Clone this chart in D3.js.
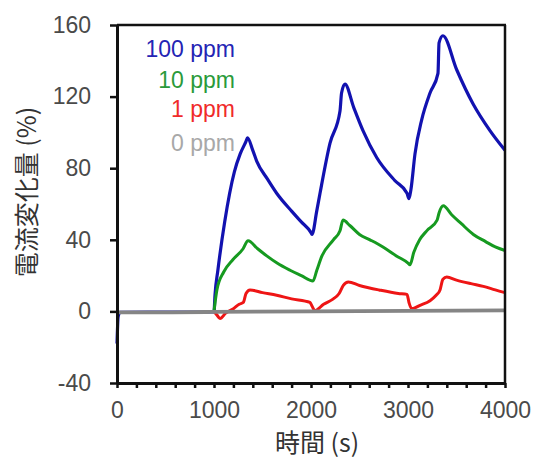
<!DOCTYPE html>
<html>
<head>
<meta charset="utf-8">
<script src="https://cdn.jsdelivr.net/npm/d3@7"></script>
<style>
  body { margin: 0; background: #fff; }
  svg { display: block; }
</style>
</head>
<body>
<div id="chart"></div>
<script>
// 時間 (s) と 電流変化量 (%)
var t100 = [0, 12, 30, 1000, 1010, 1040, 1110, 1210, 1270, 1330, 1345, 1400, 1440, 1550, 1646, 1800, 1900, 2000, 2010, 2059, 2093, 2196, 2299, 2315, 2350, 2440, 2536, 2677, 2866, 2990, 3010, 3030, 3072, 3141, 3227, 3309, 3320, 3360, 3502, 3670, 3845, 4000];
var v100 = [-18, -3, -0.5, -0.3, 9, 23, 50, 78, 88, 95, 97, 90, 84, 74, 66, 56, 50, 44, 43, 56, 66, 94, 112, 122, 127, 114, 101, 86, 73, 66, 63, 68, 88, 107, 122, 133, 150, 154, 135, 116, 101, 90];

var t10 = [1000, 1030, 1100, 1196, 1300, 1351, 1450, 1544, 1650, 1784, 1900, 2020, 2060, 2113, 2231, 2299, 2330, 2400, 2500, 2608, 2742, 2880, 3000, 3020, 3060, 3120, 3193, 3300, 3320, 3364, 3450, 3550, 3674, 3800, 3900, 4000];
var v10 = [0, 12, 22, 29, 35, 39.5, 35, 31, 27, 23, 20, 17, 23, 31, 40, 45, 51, 48, 43, 40, 36, 31, 27, 26, 33, 40, 45, 51, 55, 59, 54, 49, 43, 39, 36, 34];

var t1 = [1000, 1030, 1062, 1120, 1200, 1260, 1302, 1330, 1371, 1500, 1646, 1800, 1990, 2010, 2041, 2130, 2230, 2290, 2333, 2385, 2500, 2700, 2900, 2990, 3010, 3038, 3124, 3227, 3290, 3330, 3360, 3399, 3500, 3650, 3777, 3900, 4000];
var v1 = [0, -2, -4, -1, 1.5, 4, 5, 10, 12, 10.5, 9, 7, 5, 3, 0.5, 4, 7, 10, 14.5, 16.4, 14.5, 12, 10, 9.5, 5, 1.5, 3.4, 6, 9, 12, 18, 19.2, 17.5, 15.5, 14, 12, 10.5];

var t0 = [0, 500, 1000, 2000, 3000, 4000];
var v0 = [-0.5, -0.5, -0.3, 0, 0.3, 0.6];

var legendLabels = ["100 ppm", "10 ppm", "1 ppm", "0 ppm"];
var yTicks = [-40, 0, 40, 80, 120, 160];
var xTicks = d3.range(0, 4001, 200);

var W = 536, H = 464;
var plotL = 117, plotR = 505, plotT = 25, plotB = 383;

var svg = d3.select("#chart").append("svg")
    .attr("width", W)
    .attr("height", H);

var x = d3.scaleLinear().domain([0, 4000]).range([plotL, plotR]);
var y = d3.scaleLinear().domain([-40, 160]).range([plotB, plotT]);

var fontNum = "'Liberation Sans', Arial, sans-serif";
var fontJp = "'Noto Sans CJK JP', 'Noto Sans CJK SC', sans-serif";

function toPts(ts, vs) {
    return ts.map(function (t, i) { return [t, vs[i]]; });
}

var line = d3.line()
    .x(function (d) { return x(d[0]); })
    .y(function (d) { return y(d[1]); })
    .curve(d3.curveMonotoneX);

// series, blue first so the grey one ends up on top
var series = [
    { pts: toPts(t100, v100), color: "#1212b0", w: 3.2 },
    { pts: toPts(t10, v10), color: "#169a20", w: 3 },
    { pts: toPts(t1, v1), color: "#ee1515", w: 3 },
    { pts: toPts(t0, v0), color: "#858585", w: 3.8 }
];
series.forEach(function (s) {
    svg.append("path")
        .datum(s.pts)
        .attr("fill", "none")
        .attr("stroke", s.color)
        .attr("stroke-width", s.w)
        .attr("stroke-linejoin", "round")
        .attr("d", line);
});

// frame top / right
svg.append("line").attr("x1", plotL).attr("x2", plotR + 1).attr("y1", plotT).attr("y2", plotT)
    .attr("stroke", "#111").attr("stroke-width", 2.5);
svg.append("line").attr("x1", plotR).attr("x2", plotR).attr("y1", plotT).attr("y2", plotB)
    .attr("stroke", "#111").attr("stroke-width", 2.5);

// y axis (plain hyphen for the minus, like the original)
var gy = svg.append("g")
    .attr("transform", "translate(" + plotL + ",0)")
    .call(d3.axisLeft(y).tickValues(yTicks).tickSize(7).tickSizeOuter(0).tickPadding(19)
        .tickFormat(function (d) { return String(d); }));
gy.select(".domain").attr("stroke", "#111").attr("stroke-width", 3);
gy.selectAll(".tick line").attr("stroke", "#111").attr("stroke-width", 2.5);
gy.selectAll(".tick text")
    .attr("fill", "#4a4a4a")
    .style("font-family", fontNum)
    .style("font-size", "23px");

// x axis
var gx = svg.append("g")
    .attr("transform", "translate(0," + plotB + ")")
    .call(d3.axisBottom(x).tickValues(xTicks).tickSize(5).tickSizeOuter(0).tickPadding(14)
        .tickFormat(function (d) { return d % 1000 === 0 ? String(d) : ""; }));
gx.select(".domain").attr("stroke", "#111").attr("stroke-width", 3);
gx.selectAll(".tick line").attr("stroke", "#111").attr("stroke-width", 2.5);
gx.selectAll(".tick text")
    .attr("fill", "#4a4a4a")
    .style("font-family", fontNum)
    .style("font-size", "23px");

// axis titles
svg.append("text")
    .attr("x", 317).attr("y", 452)
    .attr("text-anchor", "middle")
    .attr("fill", "#333")
    .style("font-family", fontJp)
    .style("font-size", "25px")
    .text("時間 (s)");

svg.append("text")
    .attr("transform", "translate(36,192) rotate(-90)")
    .attr("text-anchor", "middle")
    .attr("fill", "#333")
    .style("font-family", fontJp)
    .style("font-size", "25px")
    .text("電流変化量 (%)");

// legend
var legendColors = ["#2424b4", "#2a9a3a", "#f02a2a", "#a8a8a8"];
var legendY = [57, 88, 117, 151];
legendLabels.forEach(function (lab, i) {
    svg.append("text")
        .attr("x", 235).attr("y", legendY[i])
        .attr("text-anchor", "end")
        .attr("fill", legendColors[i])
        .style("font-family", fontNum)
        .style("font-size", "23px")
        .text(lab);
});
</script>
</body>
</html>
